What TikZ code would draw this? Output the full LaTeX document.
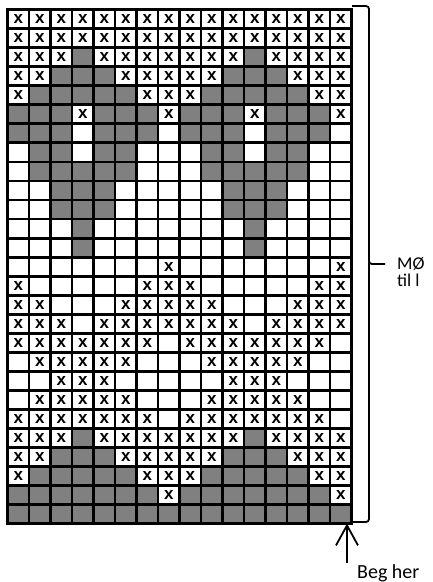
\documentclass[tikz,border=0pt]{standalone}
\usepackage{fontspec}
\setmainfont{Carlito}
\newfontfamily\cellfont{Liberation Sans}
\usetikzlibrary{positioning,arrows.meta}

\begin{document}
\begin{tikzpicture}[
  x=1pt, y=-1pt,
  cell/.style={draw, line width=2.8pt, minimum width=21.5pt, minimum height=19.05pt, inner sep=0pt, outer sep=0pt, font=\cellfont\bfseries\fontsize{17}{17}\selectfont},
  cellx/.style={cell, fill=white, node contents={x}},
  cellw/.style={cell, fill=white, node contents={}},
  cellg/.style={cell, fill=black!50, node contents={}},
  lbl/.style={font=\fontsize{20}{17}\selectfont, inner sep=0pt, align=left},
  arr/.style={-{Straight Barb[length=20pt, width=22pt]}, line width=1.8pt}
]
\useasboundingbox (0,0) rectangle (432,582);
% knitting chart, 8 stitch repeat worked twice
\foreach \rowpat [count=\r] in {
  {x,x,x,x,x,x,x,x}, {x,x,x,x,x,x,x,x}, {x,x,x,g,x,x,x,x}, {x,x,g,g,g,x,x,x},
  {x,g,g,g,g,g,x,x}, {g,g,g,x,g,g,g,x}, {g,g,g,w,g,g,g,w}, {w,g,g,w,g,g,w,w},
  {w,g,g,g,g,g,w,w}, {w,w,g,g,g,w,w,w}, {w,w,g,g,g,w,w,w}, {w,w,w,g,w,w,w,w},
  {w,w,w,g,w,w,w,w}, {w,w,w,w,w,w,w,x}, {x,w,w,w,w,w,x,x}, {x,x,w,w,w,x,x,x},
  {x,x,x,w,x,x,x,x}, {x,x,x,x,x,x,x,w}, {w,x,x,x,x,x,w,w}, {w,w,x,x,x,w,w,w},
  {w,x,x,x,x,x,w,w}, {x,x,x,x,x,x,x,w}, {x,x,x,g,x,x,x,x}, {x,x,g,g,g,x,x,x},
  {x,g,g,g,g,g,x,x}, {g,g,g,g,g,g,g,x}, {g,g,g,g,g,g,g,g}} {
  \foreach \rep in {0,8} {
    \foreach \st [count=\c] in \rowpat {
      \pgfmathtruncatemacro\col{\c+\rep}
      \node (c-\r-\col) at ({7.5+21.5*(\col-0.5)},{9.5+19.05*(\r-0.5)}) [cell\st];
    }
  }
}
\draw[line width=3.2pt] (c-1-1.north west) rectangle (c-27-16.south east);

% brace for the pattern
\draw[line width=1.8pt, rounded corners=3pt] (352,6) -| (369,264) -- (385,264);
\draw[line width=1.8pt, rounded corners=3pt] (369,262) |- (352,522);
\node[lbl, font=\fontsize{18}{17}\selectfont, anchor=north west] (motif) at (397,257) {MØ\\til l};

% start
\coordinate (tip) at (347,523.5);
\coordinate (tail) at (347,563);
\draw[arr] (tail) -- (tip);
\node[lbl, anchor=base west] (begin) at (357,578) {Beg her};
\end{tikzpicture}
\end{document}
